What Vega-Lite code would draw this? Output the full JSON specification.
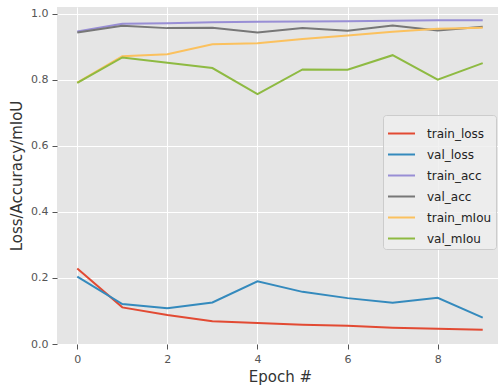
{
  "$schema": "https://vega.github.io/schema/vega-lite/v6.json",
  "autosize": {"type": "none"},
  "padding": {"left": 57, "top": 7, "right": 0, "bottom": 43},
  "width": 446,
  "height": 337,
  "background": "white",
  "config": {
    "view": {"fill": "#E5E5E5", "stroke": null},
    "font": "DejaVu Sans",
    "axis": {
      "gridColor": "white",
      "gridWidth": 1,
      "domain": false,
      "tickColor": "#555555",
      "tickSize": 5,
      "tickWidth": 1,
      "labelColor": "#555555",
      "labelFont": "DejaVu Sans",
      "labelFontSize": 11,
      "labelPadding": 4,
      "titleFont": "DejaVu Sans",
      "titleFontSize": 15,
      "titleFontWeight": "normal",
      "titleColor": "#333333"
    }
  },
  "data": {
    "values": [
      {"epoch": 0, "series": "train_loss", "value": 0.229},
      {"epoch": 1, "series": "train_loss", "value": 0.111},
      {"epoch": 2, "series": "train_loss", "value": 0.088},
      {"epoch": 3, "series": "train_loss", "value": 0.069},
      {"epoch": 4, "series": "train_loss", "value": 0.064},
      {"epoch": 5, "series": "train_loss", "value": 0.058},
      {"epoch": 6, "series": "train_loss", "value": 0.055},
      {"epoch": 7, "series": "train_loss", "value": 0.049},
      {"epoch": 8, "series": "train_loss", "value": 0.046},
      {"epoch": 9, "series": "train_loss", "value": 0.043},
      {"epoch": 0, "series": "val_loss", "value": 0.204},
      {"epoch": 1, "series": "val_loss", "value": 0.121},
      {"epoch": 2, "series": "val_loss", "value": 0.108},
      {"epoch": 3, "series": "val_loss", "value": 0.126},
      {"epoch": 4, "series": "val_loss", "value": 0.190},
      {"epoch": 5, "series": "val_loss", "value": 0.158},
      {"epoch": 6, "series": "val_loss", "value": 0.139},
      {"epoch": 7, "series": "val_loss", "value": 0.125},
      {"epoch": 8, "series": "val_loss", "value": 0.140},
      {"epoch": 9, "series": "val_loss", "value": 0.080},
      {"epoch": 0, "series": "train_acc", "value": 0.947},
      {"epoch": 1, "series": "train_acc", "value": 0.970},
      {"epoch": 2, "series": "train_acc", "value": 0.972},
      {"epoch": 3, "series": "train_acc", "value": 0.975},
      {"epoch": 4, "series": "train_acc", "value": 0.976},
      {"epoch": 5, "series": "train_acc", "value": 0.977},
      {"epoch": 6, "series": "train_acc", "value": 0.978},
      {"epoch": 7, "series": "train_acc", "value": 0.979},
      {"epoch": 8, "series": "train_acc", "value": 0.981},
      {"epoch": 9, "series": "train_acc", "value": 0.981},
      {"epoch": 0, "series": "val_acc", "value": 0.944},
      {"epoch": 1, "series": "val_acc", "value": 0.964},
      {"epoch": 2, "series": "val_acc", "value": 0.957},
      {"epoch": 3, "series": "val_acc", "value": 0.958},
      {"epoch": 4, "series": "val_acc", "value": 0.944},
      {"epoch": 5, "series": "val_acc", "value": 0.957},
      {"epoch": 6, "series": "val_acc", "value": 0.949},
      {"epoch": 7, "series": "val_acc", "value": 0.965},
      {"epoch": 8, "series": "val_acc", "value": 0.950},
      {"epoch": 9, "series": "val_acc", "value": 0.961},
      {"epoch": 0, "series": "train_mIou", "value": 0.792},
      {"epoch": 1, "series": "train_mIou", "value": 0.872},
      {"epoch": 2, "series": "train_mIou", "value": 0.878},
      {"epoch": 3, "series": "train_mIou", "value": 0.908},
      {"epoch": 4, "series": "train_mIou", "value": 0.911},
      {"epoch": 5, "series": "train_mIou", "value": 0.924},
      {"epoch": 6, "series": "train_mIou", "value": 0.935},
      {"epoch": 7, "series": "train_mIou", "value": 0.946},
      {"epoch": 8, "series": "train_mIou", "value": 0.955},
      {"epoch": 9, "series": "train_mIou", "value": 0.958},
      {"epoch": 0, "series": "val_mIou", "value": 0.791},
      {"epoch": 1, "series": "val_mIou", "value": 0.868},
      {"epoch": 2, "series": "val_mIou", "value": 0.852},
      {"epoch": 3, "series": "val_mIou", "value": 0.836},
      {"epoch": 4, "series": "val_mIou", "value": 0.757},
      {"epoch": 5, "series": "val_mIou", "value": 0.832},
      {"epoch": 6, "series": "val_mIou", "value": 0.831},
      {"epoch": 7, "series": "val_mIou", "value": 0.875},
      {"epoch": 8, "series": "val_mIou", "value": 0.801},
      {"epoch": 9, "series": "val_mIou", "value": 0.851}
    ]
  },
  "mark": {"type": "line", "strokeWidth": 2},
  "encoding": {
    "x": {
      "field": "epoch",
      "type": "quantitative",
      "scale": {"domain": [-0.45, 9.45], "nice": false, "zero": false},
      "axis": {"values": [0, 2, 4, 6, 8], "title": "Epoch #", "titlePadding": 5}
    },
    "y": {
      "field": "value",
      "type": "quantitative",
      "scale": {"domain": [0, 1.021], "nice": false},
      "axis": {"values": [0, 0.2, 0.4, 0.6, 0.8, 1.0], "format": ".1f", "title": "Loss/Accuracy/mIoU", "titlePadding": 6}
    },
    "color": {
      "field": "series",
      "type": "nominal",
      "sort": ["train_loss", "val_loss", "train_acc", "val_acc", "train_mIou", "val_mIou"],
      "scale": {
        "domain": ["train_loss", "val_loss", "train_acc", "val_acc", "train_mIou", "val_mIou"],
        "range": ["#E24A33", "#348ABD", "#988ED5", "#777777", "#FBC15E", "#8EBA42"]
      },
      "legend": {
        "title": null,
        "orient": "none",
        "legendX": 326,
        "legendY": 108,
        "symbolType": "stroke",
        "symbolSize": 729,
        "symbolStrokeWidth": 2,
        "labelFontSize": 12,
        "labelFont": "DejaVu Sans",
        "labelColor": "#222222",
        "labelOffset": 11,
        "rowPadding": -7.5,
        "padding": 4,
        "fillColor": "rgba(238,238,238,0.85)",
        "strokeColor": "#CCCCCC",
        "cornerRadius": 3
      }
    }
  }
}
